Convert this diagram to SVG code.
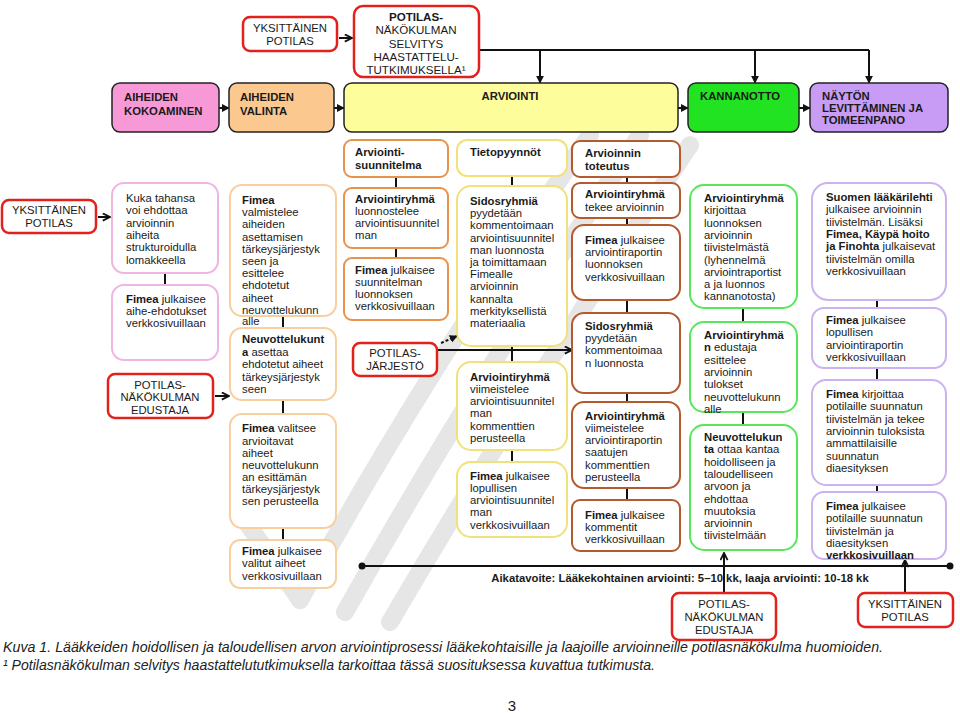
<svg xmlns="http://www.w3.org/2000/svg" width="960" height="713" viewBox="0 0 960 713">
<defs>
<marker id="ah" viewBox="0 0 10 10" refX="9" refY="5" markerWidth="8" markerHeight="8" markerUnits="userSpaceOnUse" orient="auto">
<path d="M0,0 L10,5 L0,10 z" fill="#111"/>
</marker>
<marker id="ao" viewBox="0 0 10 10" refX="9" refY="5" markerWidth="9" markerHeight="9" markerUnits="userSpaceOnUse" orient="auto">
<path d="M1,1 L9,5 L1,9" fill="none" stroke="#111" stroke-width="2"/>
</marker>
</defs>
<style>
text{font-family:"Liberation Sans",Arial,sans-serif;font-size:11.3px;fill:#1a1a1a}
.b{font-weight:bold}
.c{text-anchor:middle}
.red{fill:#fff;stroke:#e2211c;stroke-width:2.5}
.hd{stroke:#222;stroke-width:1.5}
.pk{fill:#fff;stroke:#efb6e2;stroke-width:2}
.or{fill:#fff;stroke:#f8cf9e;stroke-width:2}
.o2{fill:#fff;stroke:#e8924c;stroke-width:2}
.ye{fill:#fff;stroke:#f1e17a;stroke-width:2}
.br{fill:#fff;stroke:#b45a2e;stroke-width:2}
.gr{fill:#fff;stroke:#5ae65a;stroke-width:2}
.pu{fill:#fff;stroke:#cdb2f0;stroke-width:2}
.ln{stroke:#111;stroke-width:2;fill:none}
.wm{stroke:#e6e6e6;stroke-width:18;fill:none;stroke-linecap:round}
.cap{font-size:15px;font-style:italic;fill:#222}
</style>
<rect width="960" height="713" fill="#fff"/>
<g id="watermark">
<path class="wm" d="M300 600 Q 420 380 590 135"/>
<path class="wm" d="M345 612 Q 470 390 640 135"/>
<path class="wm" d="M390 622 Q 520 400 690 145"/>
<path class="wm" d="M300 600 L 245 520"/>
</g>
<g id="connectors">
<line class="ln" x1="339" y1="38" x2="352" y2="38" marker-end="url(#ao)"/>
<polyline class="ln" points="479,50 869,50"/>
<line class="ln" x1="540" y1="50" x2="540" y2="83" marker-end="url(#ah)"/>
<line class="ln" x1="755" y1="50" x2="755" y2="83" marker-end="url(#ah)"/>
<line class="ln" x1="869" y1="50" x2="869" y2="83" marker-end="url(#ah)"/>
<line class="ln" x1="219" y1="108" x2="229" y2="108" marker-end="url(#ah)"/>
<line class="ln" x1="334" y1="108" x2="344" y2="108" marker-end="url(#ah)"/>
<line class="ln" x1="678" y1="108" x2="688" y2="108" marker-end="url(#ah)"/>
<line class="ln" x1="799" y1="108" x2="810" y2="108" marker-end="url(#ah)"/>
<line class="ln" x1="98" y1="217" x2="110" y2="217" marker-end="url(#ao)"/>
<line class="ln" x1="165" y1="273" x2="165" y2="285"/>
<line class="ln" x1="215" y1="396" x2="229" y2="396" marker-end="url(#ao)"/>
<line class="ln" x1="283" y1="316" x2="283" y2="328"/>
<line class="ln" x1="283" y1="400" x2="283" y2="414"/>
<line class="ln" x1="283" y1="528" x2="283" y2="540"/>
<line class="ln" x1="396" y1="177" x2="396" y2="188"/>
<line class="ln" x1="396" y1="248" x2="396" y2="258"/>
<line class="ln" x1="441" y1="343" x2="457" y2="336" stroke-dasharray="3,2" marker-end="url(#ah)"/>
<line class="ln" x1="437" y1="350" x2="572" y2="350" marker-end="url(#ao)"/>
<line class="ln" x1="512" y1="176" x2="512" y2="186"/>
<line class="ln" x1="512" y1="346" x2="512" y2="362"/>
<line class="ln" x1="512" y1="450" x2="512" y2="462"/>
<line class="ln" x1="627" y1="177" x2="627" y2="183"/>
<line class="ln" x1="627" y1="218" x2="627" y2="225"/>
<line class="ln" x1="627" y1="300" x2="627" y2="313"/>
<line class="ln" x1="627" y1="393" x2="627" y2="402"/>
<line class="ln" x1="627" y1="488" x2="627" y2="500"/>
<line class="ln" x1="743" y1="308" x2="743" y2="322"/>
<line class="ln" x1="743" y1="412" x2="743" y2="425"/>
<line class="ln" x1="877" y1="300" x2="877" y2="308"/>
<line class="ln" x1="877" y1="368" x2="877" y2="380"/>
<line class="ln" x1="877" y1="485" x2="877" y2="492"/>
<line class="ln" x1="362" y1="566" x2="950" y2="566" stroke-width="2.5"/>
<circle cx="362" cy="566" r="3.5" fill="#111"/>
<circle cx="950" cy="566" r="3.5" fill="#111"/>
<line class="ln" x1="724" y1="593" x2="724" y2="553" marker-end="url(#ao)"/>
<line class="ln" x1="905" y1="593" x2="905" y2="560" marker-end="url(#ao)"/>
</g>
<g id="n-yks-top"><rect x="243" y="17" width="94" height="34" rx="7" class="red"/>
<text class="c"><tspan x="290" y="32">YKSITTÄINEN</tspan><tspan x="290" y="45">POTILAS</tspan></text></g>
<g id="n-selvitys"><rect x="354" y="6" width="125" height="71" rx="9" class="red"/>
<text class="c" style="font-size:11.6px"><tspan x="416" y="21" class="b">POTILAS-</tspan><tspan x="416" y="34">NÄKÖKULMAN</tspan><tspan x="416" y="48">SELVITYS</tspan><tspan x="416" y="61">HAASTATTELU-</tspan><tspan x="416" y="74">TUTKIMUKSELLA¹</tspan></text></g>
<g id="h-kokoaminen"><rect x="112" y="83" width="107" height="49" rx="8" class="hd" fill="#f699d6"/>
<text class="b"><tspan x="124" y="101">AIHEIDEN</tspan><tspan x="124" y="115">KOKOAMINEN</tspan></text></g>
<g id="h-valinta"><rect x="229" y="83" width="105" height="49" rx="8" class="hd" fill="#fbc890"/>
<text class="b"><tspan x="240" y="101">AIHEIDEN</tspan><tspan x="240" y="115">VALINTA</tspan></text></g>
<g id="h-arviointi"><rect x="344" y="83" width="334" height="49" rx="8" class="hd" fill="#fefd9c"/>
<text class="b c" x="510" y="100">ARVIOINTI</text></g>
<g id="h-kannanotto"><rect x="688" y="83" width="111" height="49" rx="8" class="hd" fill="#22e322"/>
<text class="b" x="700" y="100">KANNANOTTO</text></g>
<g id="h-levittaminen"><rect x="810" y="83" width="138" height="49" rx="8" class="hd" fill="#c89cf5"/>
<text class="b"><tspan x="822" y="100">NÄYTÖN</tspan><tspan x="822" y="112">LEVITTÄMINEN JA</tspan><tspan x="822" y="124">TOIMEENPANO</tspan></text></g>
<g id="n-yks-left"><rect x="2" y="200" width="94" height="33" rx="7" class="red"/>
<text class="c"><tspan x="49" y="214">YKSITTÄINEN</tspan><tspan x="49" y="227">POTILAS</tspan></text></g>
<g id="c1-1"><rect x="112" y="183" width="106" height="90" rx="12" class="pk"/>
<text><tspan x="126" y="202">Kuka tahansa</tspan><tspan x="126" y="214.3">voi ehdottaa</tspan><tspan x="126" y="226.6">arvioinnin</tspan><tspan x="126" y="238.9">aiheita</tspan><tspan x="126" y="251.2">strukturoidulla</tspan><tspan x="126" y="263.5">lomakkeella</tspan></text></g>
<g id="c1-2"><rect x="112" y="285" width="106" height="75" rx="12" class="pk"/>
<text><tspan x="126" y="303" class="b">Fimea</tspan><tspan> julkaisee</tspan><tspan x="126" y="315">aihe-ehdotukset</tspan><tspan x="126" y="327">verkkosivuillaan</tspan></text></g>
<g id="n-edustaja-left"><rect x="108" y="374" width="105" height="44" rx="7" class="red"/>
<text class="c"><tspan x="160" y="389">POTILAS-</tspan><tspan x="160" y="401">NÄKÖKULMAN</tspan><tspan x="160" y="414">EDUSTAJA</tspan></text></g>
<g id="c2-1"><rect x="230" y="185" width="106" height="131" rx="12" class="or"/>
<text><tspan x="242" y="204" class="b">Fimea</tspan><tspan x="242" y="216.2">valmistelee</tspan><tspan x="242" y="228.4">aiheiden</tspan><tspan x="242" y="240.6">asettamisen</tspan><tspan x="242" y="252.8">tärkeysjärjestyk</tspan><tspan x="242" y="265">seen ja</tspan><tspan x="242" y="277.2">esittelee</tspan><tspan x="242" y="289.4">ehdotetut</tspan><tspan x="242" y="301.6">aiheet</tspan><tspan x="242" y="313.8">neuvottelukunn</tspan><tspan x="242" y="325">alle</tspan></text></g>
<g id="c2-2"><rect x="230" y="328" width="106" height="72" rx="12" class="or"/>
<text><tspan x="242" y="343" class="b">Neuvottelukunt</tspan><tspan x="242" y="355.5" class="b">a</tspan><tspan> asettaa</tspan><tspan x="242" y="368">ehdotetut aiheet</tspan><tspan x="242" y="380.5">tärkeysjärjestyk</tspan><tspan x="242" y="393">seen</tspan></text></g>
<g id="c2-3"><rect x="230" y="414" width="106" height="114" rx="12" class="or"/>
<text><tspan x="242" y="432" class="b">Fimea</tspan><tspan> valitsee</tspan><tspan x="242" y="444.5">arvioitavat</tspan><tspan x="242" y="457">aiheet</tspan><tspan x="242" y="469">neuvottelukunn</tspan><tspan x="242" y="481">an esittämän</tspan><tspan x="242" y="493">tärkeysjärjestyk</tspan><tspan x="242" y="505">sen perusteella</tspan></text></g>
<g id="c2-4"><rect x="230" y="540" width="106" height="48" rx="10" class="or"/>
<text><tspan x="242" y="555" class="b">Fimea</tspan><tspan> julkaisee</tspan><tspan x="242" y="567">valitut aiheet</tspan><tspan x="242" y="580">verkkosivuillaan</tspan></text></g>
<g id="c3-1"><rect x="344" y="140" width="104" height="37" rx="8" class="o2"/>
<text class="b"><tspan x="355" y="156">Arviointi-</tspan><tspan x="355" y="169">suunnitelma</tspan></text></g>
<g id="c3-2"><rect x="344" y="188" width="104" height="60" rx="8" class="o2"/>
<text><tspan x="355" y="203" class="b">Arviointiryhmä</tspan><tspan x="355" y="215">luonnostelee</tspan><tspan x="355" y="227">arviointisuunnitel</tspan><tspan x="355" y="239">man</tspan></text></g>
<g id="c3-3"><rect x="344" y="258" width="104" height="62" rx="8" class="o2"/>
<text><tspan x="355" y="274" class="b">Fimea</tspan><tspan> julkaisee</tspan><tspan x="355" y="286">suunnitelman</tspan><tspan x="355" y="298">luonnoksen</tspan><tspan x="355" y="310">verkkosivuillaan</tspan></text></g>
<g id="n-jarjesto"><rect x="353" y="343" width="84" height="33" rx="7" class="red"/>
<text class="c"><tspan x="395" y="357">POTILAS-</tspan><tspan x="395" y="370">JÄRJESTÖ</tspan></text></g>
<g id="c4-1"><rect x="457" y="140" width="110" height="36" rx="10" class="ye"/>
<text class="b" x="470" y="156">Tietopyynnöt</text></g>
<g id="c4-2"><rect x="457" y="186" width="110" height="160" rx="14" class="ye"/>
<text><tspan x="470" y="205" class="b">Sidosryhmiä</tspan><tspan x="470" y="217.2">pyydetään</tspan><tspan x="470" y="229.4">kommentoimaan</tspan><tspan x="470" y="241.6">arviointisuunnitel</tspan><tspan x="470" y="253.8">man luonnosta</tspan><tspan x="470" y="266">ja toimittamaan</tspan><tspan x="470" y="278.2">Fimealle</tspan><tspan x="470" y="290.4">arvioinnin</tspan><tspan x="470" y="302.6">kannalta</tspan><tspan x="470" y="314.8">merkityksellistä</tspan><tspan x="470" y="327">materiaalia</tspan></text></g>
<g id="c4-3"><rect x="457" y="362" width="110" height="88" rx="14" class="ye"/>
<text><tspan x="470" y="381" class="b">Arviointiryhmä</tspan><tspan x="470" y="393">viimeistelee</tspan><tspan x="470" y="405">arviointisuunnitel</tspan><tspan x="470" y="417">man</tspan><tspan x="470" y="429.5">kommenttien</tspan><tspan x="470" y="442">perusteella</tspan></text></g>
<g id="c4-4"><rect x="457" y="462" width="110" height="75" rx="14" class="ye"/>
<text><tspan x="470" y="480" class="b">Fimea</tspan><tspan> julkaisee</tspan><tspan x="470" y="492">lopullisen</tspan><tspan x="470" y="504">arviointisuunnitel</tspan><tspan x="470" y="516">man</tspan><tspan x="470" y="529">verkkosivuillaan</tspan></text></g>
<g id="c5-1"><rect x="572" y="141" width="108" height="36" rx="8" class="br"/>
<text class="b"><tspan x="585" y="157">Arvioinnin</tspan><tspan x="585" y="170">toteutus</tspan></text></g>
<g id="c5-2"><rect x="572" y="183" width="108" height="35" rx="8" class="br"/>
<text><tspan x="585" y="198" class="b">Arviointiryhmä</tspan><tspan x="585" y="211">tekee arvioinnin</tspan></text></g>
<g id="c5-3"><rect x="572" y="225" width="108" height="75" rx="12" class="br"/>
<text><tspan x="585" y="244" class="b">Fimea</tspan><tspan> julkaisee</tspan><tspan x="585" y="256">arviointiraportin</tspan><tspan x="585" y="268">luonnoksen</tspan><tspan x="585" y="281">verkkosivuillaan</tspan></text></g>
<g id="c5-4"><rect x="572" y="313" width="108" height="80" rx="12" class="br"/>
<text><tspan x="585" y="330" class="b">Sidosryhmiä</tspan><tspan x="585" y="342">pyydetään</tspan><tspan x="585" y="354">kommentoimaa</tspan><tspan x="585" y="367">n luonnosta</tspan></text></g>
<g id="c5-5"><rect x="572" y="402" width="108" height="86" rx="12" class="br"/>
<text><tspan x="585" y="420" class="b">Arviointiryhmä</tspan><tspan x="585" y="432">viimeistelee</tspan><tspan x="585" y="444">arviointiraportin</tspan><tspan x="585" y="456">saatujen</tspan><tspan x="585" y="469">kommenttien</tspan><tspan x="585" y="481">perusteella</tspan></text></g>
<g id="c5-6"><rect x="572" y="500" width="108" height="51" rx="8" class="br"/>
<text><tspan x="585" y="519" class="b">Fimea</tspan><tspan> julkaisee</tspan><tspan x="585" y="531">kommentit</tspan><tspan x="585" y="543">verkkosivuillaan</tspan></text></g>
<g id="c6-1"><rect x="690" y="185" width="107" height="123" rx="14" class="gr"/>
<text><tspan x="704" y="202" class="b">Arviointiryhmä</tspan><tspan x="704" y="214.3">kirjoittaa</tspan><tspan x="704" y="226.6">luonnoksen</tspan><tspan x="704" y="238.9">arvioinnin</tspan><tspan x="704" y="251.2">tiivistelmästä</tspan><tspan x="704" y="263.5">(lyhennelmä</tspan><tspan x="704" y="275.8">arviointraportist</tspan><tspan x="704" y="288.1">a ja luonnos</tspan><tspan x="704" y="300.4">kannanotosta)</tspan></text></g>
<g id="c6-2"><rect x="690" y="322" width="107" height="90" rx="14" class="gr"/>
<text><tspan x="704" y="339" class="b">Arviointiryhmä</tspan><tspan x="704" y="351.3" class="b">n</tspan><tspan> edustaja</tspan><tspan x="704" y="363.6">esittelee</tspan><tspan x="704" y="375.9">arvioinnin</tspan><tspan x="704" y="388.2">tulokset</tspan><tspan x="704" y="400.5">neuvottelukunn</tspan><tspan x="704" y="413">alle</tspan></text></g>
<g id="c6-3"><rect x="690" y="425" width="107" height="125" rx="14" class="gr"/>
<text><tspan x="704" y="441" class="b">Neuvottelukun</tspan><tspan x="704" y="453.3" class="b">ta</tspan><tspan> ottaa kantaa</tspan><tspan x="704" y="465.6">hoidolliseen ja</tspan><tspan x="704" y="477.9">taloudelliseen</tspan><tspan x="704" y="490.2">arvoon ja</tspan><tspan x="704" y="502.5">ehdottaa</tspan><tspan x="704" y="514.8">muutoksia</tspan><tspan x="704" y="527.1">arvioinnin</tspan><tspan x="704" y="539.4">tiivistelmään</tspan></text></g>
<g id="c7-1"><rect x="812" y="183" width="134" height="117" rx="16" class="pu"/>
<text><tspan x="826" y="201" class="b">Suomen lääkärilehti</tspan><tspan x="826" y="213.3">julkaisee arvioinnin</tspan><tspan x="826" y="225.6">tiivistelmän. Lisäksi</tspan><tspan x="826" y="237.9" class="b">Fimea, Käypä hoito</tspan><tspan x="826" y="250.2" class="b">ja Finohta</tspan><tspan> julkaisevat</tspan><tspan x="826" y="262.5">tiivistelmän omilla</tspan><tspan x="826" y="274.8">verkkosivuillaan</tspan></text></g>
<g id="c7-2"><rect x="812" y="308" width="134" height="60" rx="12" class="pu"/>
<text><tspan x="826" y="324" class="b">Fimea</tspan><tspan> julkaisee</tspan><tspan x="826" y="336.3">lopullisen</tspan><tspan x="826" y="348.6">arviointiraportin</tspan><tspan x="826" y="360.9">verkkosivuillaan</tspan></text></g>
<g id="c7-3"><rect x="812" y="380" width="134" height="105" rx="14" class="pu"/>
<text><tspan x="826" y="398" class="b">Fimea</tspan><tspan> kirjoittaa</tspan><tspan x="826" y="410.3">potilaille suunnatun</tspan><tspan x="826" y="422.6">tiivistelmän ja tekee</tspan><tspan x="826" y="434.9">arvioinnin tuloksista</tspan><tspan x="826" y="447.2">ammattilaisille</tspan><tspan x="826" y="459.5">suunnatun</tspan><tspan x="826" y="471.8">diaesityksen</tspan></text></g>
<g id="c7-4"><rect x="812" y="492" width="134" height="67" rx="12" class="pu"/>
<text><tspan x="826" y="510" class="b">Fimea</tspan><tspan> julkaisee</tspan><tspan x="826" y="522.3">potilaille suunnatun</tspan><tspan x="826" y="534.6">tiivistelmän ja</tspan><tspan x="826" y="546.9">diaesityksen</tspan><tspan x="826" y="559.2" class="b">verkkosivuillaan</tspan></text></g>
<g id="timeline-label"><text class="b c" x="680" y="582">Aikatavoite: Lääkekohtainen arviointi: 5–10 kk, laaja arviointi: 10-18 kk</text></g>
<g id="n-edustaja-bottom"><rect x="672" y="593" width="104" height="47" rx="7" class="red"/>
<text class="c"><tspan x="724" y="608">POTILAS-</tspan><tspan x="724" y="621">NÄKÖKULMAN</tspan><tspan x="724" y="634">EDUSTAJA</tspan></text></g>
<g id="n-yks-bottom"><rect x="858" y="593" width="95" height="34" rx="7" class="red"/>
<text class="c"><tspan x="905" y="608">YKSITTÄINEN</tspan><tspan x="905" y="621">POTILAS</tspan></text></g>
<g id="caption">
<text class="cap" x="3" y="652" textLength="880" lengthAdjust="spacingAndGlyphs">Kuva 1. Lääkkeiden hoidollisen ja taloudellisen arvon arviointiprosessi lääkekohtaisille ja laajoille arvioinneille potilasnäkökulma huomioiden.</text>
<text class="cap" x="3" y="670" textLength="652" lengthAdjust="spacingAndGlyphs">¹ Potilasnäkökulman selvitys haastattelututkimuksella tarkoittaa tässä suosituksessa kuvattua tutkimusta.</text>
<text x="512" y="711" style="font-size:15px" class="c">3</text>
</g>
</svg>
